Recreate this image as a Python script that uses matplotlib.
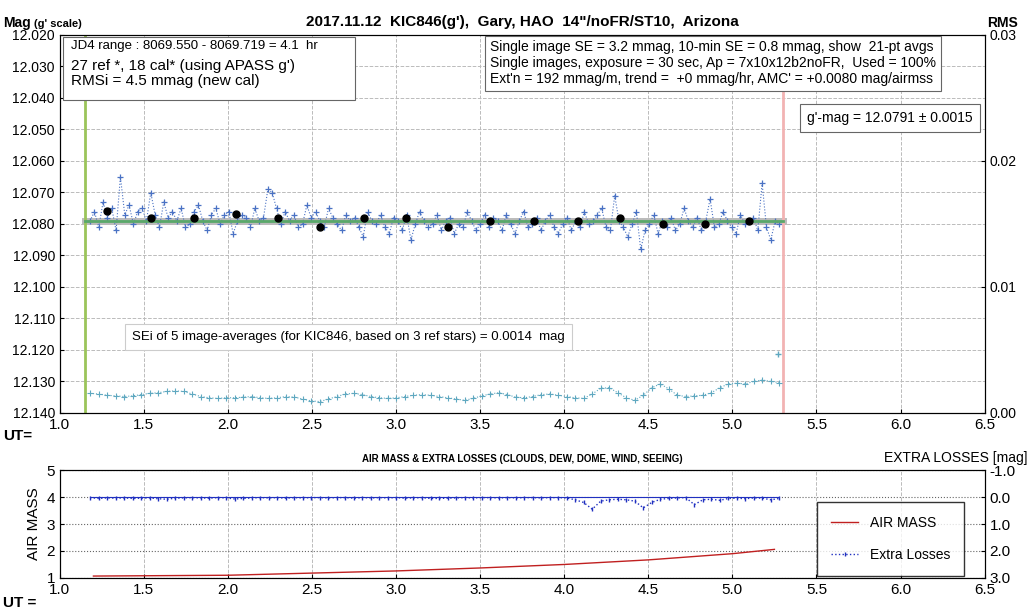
import numpy as np
import matplotlib.pyplot as plt
from matplotlib.patches import Rectangle

plt.rcParams.update({"font.family": "Liberation Sans", "font.size": 10})

# ---- data ----
ut_start, ut_end = 1.18, 5.28
mag_dev = [  # mmag offset from 12.079, one per image
    0, -3, 2, -6, -1, -4, 3, -14, -2, -5, 1, -3, -4, 0, -9, -2, 2, -6, -1, -3,
    0, -4, 2, 1, -3, -5, 0, 3, -2, -4, 1, -2, -3, 4, 0, -2, -1, 2, -4, 0,
    -1, -10, -9, -4, 1, -3, 0, -2, 2, 1, -5, -1, -3, 0, 2, -4, -1, 1, 3, -2,
    0, -1, 2, 5, -3, 0, 1, -2, 2, 4, -1, 0, 3, -2, 6, 1, -3, 0, 2, 1,
    -2, 3, 0, -1, 4, 1, 2, -3, 0, 3, 1, -2, 2, -1, 0, 3, -2, 1, 4, 0,
    -3, 2, 1, -1, 3, 0, -2, 2, 4, 1, -1, 3, 0, 2, -3, 1, 0, -2, -4, 2,
    3, -8, 0, 2, 5, 1, -3, 9, 3, 1, -2, 4, 0, 2, -1, 3, 1, -4, 0, 2,
    -1, 3, 0, -7, 2, 1, -3, 0, 2, 4, -2, 1, 0, -1, 3, -12, 2, 6, 0, 1,
]
avg_ut = [1.28, 1.54, 1.80, 2.05, 2.30, 2.55, 2.81, 3.06, 3.31, 3.56, 3.82, 4.08, 4.33, 4.59, 4.84, 5.10]
avg_mag = [12.076, 12.078, 12.078, 12.077, 12.078, 12.081, 12.078, 12.078, 12.081, 12.079,
           12.079, 12.079, 12.078, 12.080, 12.080, 12.079]
rms_vals = [  # RMS, right axis, 0.05 hr spacing
    1.55, 1.5, 1.4, 1.35, 1.3, 1.35, 1.45, 1.55, 1.6, 1.7, 1.75, 1.7, 1.5, 1.3, 1.2, 1.15,
    1.2, 1.2, 1.25, 1.3, 1.2, 1.15, 1.2, 1.3, 1.25, 1.1, 0.95, 0.9, 1.1, 1.3, 1.5, 1.55,
    1.45, 1.3, 1.2, 1.15, 1.2, 1.3, 1.4, 1.45, 1.4, 1.3, 1.2, 1.1, 1.0, 1.15, 1.35, 1.5,
    1.6, 1.45, 1.25, 1.2, 1.3, 1.45, 1.5, 1.4, 1.3, 1.2, 1.15, 1.5, 1.95, 2.0, 1.6, 1.2,
    1.0, 1.4, 2.0, 2.3, 1.9, 1.4, 1.3, 1.35, 1.4, 1.6, 2.0, 2.3, 2.35, 2.3, 2.5, 2.6, 2.5, 2.4,
]
extra_loss = [
    0.02, 0.05, 0.03, 0.04, 0.03, 0.05, 0.04, 0.03, 0.06, 0.08, 0.04, 0.03, 0.02, 0.03, 0.04, 0.02,
    0.03, 0.07, 0.05, 0.03, 0.02, 0.03, 0.02, 0.04, 0.02, 0.03, 0.02, 0.02, 0.03, 0.02, 0.02, 0.04,
    0.02, 0.03, 0.02, 0.03, 0.02, 0.04, 0.03, 0.02, 0.05, 0.05, 0.04, 0.03, 0.02, 0.03, 0.02, 0.02,
    0.03, 0.02, 0.03, 0.02, 0.02, 0.03, 0.02, 0.02, 0.03, 0.1, 0.2, 0.45, 0.15, 0.1, 0.08, 0.1,
    0.15, 0.4, 0.2, 0.08, 0.05, 0.03, 0.02, 0.28, 0.1, 0.08, 0.12, 0.05, 0.04, 0.06, 0.03, 0.04,
    0.1, 0.05,
]
am_ut = [1.2, 2.0, 2.5, 3.0, 3.5, 4.0, 4.5, 5.0, 5.25]
am_val = [1.07, 1.1, 1.18, 1.26, 1.37, 1.5, 1.67, 1.9, 2.06]
gmag = 12.0791

mag_ut = np.linspace(ut_start, ut_end, len(mag_dev))
mag = gmag + np.array(mag_dev) / 1000.0
rms_ut = np.linspace(ut_start, ut_end, len(rms_vals))
el_ut = np.linspace(ut_start, ut_end, len(extra_loss))
ticks_x = np.arange(1.0, 6.51, 0.5)

fig = plt.figure(figsize=(10.31, 6.09), dpi=100)
ax = fig.add_axes([0.058, 0.322, 0.897, 0.621])
ax.plot(mag_ut, mag, ls=":", color="#4a72c4", lw=0.8, marker="+", ms=5, mew=0.9)
ax.plot([1.15, 5.3], [gmag, gmag], color="#bbbbbb", lw=5, zorder=1)
ax.plot([1.15, 5.3], [gmag, gmag], color="#5aa86a", lw=2, zorder=3)
ax.plot(avg_ut, avg_mag, "o", color="black", ms=5, zorder=4)
ax.axvline(1.15, color="#9bc45a", lw=2)
ax.axvline(5.3, color="#f2b3b3", lw=2)
ax.set_xlim(1.0, 6.5)
ax.set_ylim(12.140, 12.020)
yt = np.arange(12.020, 12.1401, 0.010)
ax.set_yticks(yt)
ax.set_yticklabels([f"{v:.3f}" for v in yt])
ax.set_xticks(ticks_x)
ax.set_xticklabels([f"{v:.1f}" for v in ticks_x], fontsize=11)
ax.grid(True, ls="--", color="#bbbbbb", lw=0.7)
ax.tick_params(direction="in", length=3)
ax.set_title("2017.11.12  KIC846(g'),  Gary, HAO  14\"/noFR/ST10,  Arizona", fontsize=11, fontweight="bold")

ax2 = ax.twinx()
ax2.plot(rms_ut, np.array(rms_vals) / 1000.0, ls=":", color="#5fa8c0", lw=0.8, marker="+", ms=4, mew=0.8)
ax2.plot([5.27], [0.0047], "+", color="#5fa8c0", ms=4)
ax2.set_ylim(0, 0.03)
ax2.set_yticks([0, 0.01, 0.02, 0.03])
ax2.set_yticklabels(["0.00", "0.01", "0.02", "0.03"])
ax2.tick_params(direction="in", length=3)

fig.text(0.003, 0.955, "Mag", fontsize=10, fontweight="bold")
fig.text(0.033, 0.955, "(g' scale)", fontsize=8, fontweight="bold")
fig.text(0.957, 0.955, "RMS", fontsize=10, fontweight="bold")
fig.text(0.003, 0.278, "UT=", fontsize=11, fontweight="bold")

box = dict(facecolor="white", edgecolor="#666666", lw=0.8, boxstyle="square,pad=0.35")
ax2.add_patch(Rectangle((0.004, 0.828), 0.315, 0.167, transform=ax2.transAxes,
                        facecolor="white", edgecolor="#666666", lw=0.8, zorder=5))
ax2.text(0.012, 0.985, "JD4 range : 8069.550 - 8069.719 = 4.1  hr", transform=ax2.transAxes,
         va="top", fontsize=9.5, zorder=6)
ax2.text(0.012, 0.935, "27 ref *, 18 cal* (using APASS g')\nRMSi = 4.5 mmag (new cal)",
         transform=ax2.transAxes, va="top", fontsize=11, linespacing=1.1, zorder=6)
ax2.text(0.465, 0.985, "Single image SE = 3.2 mmag, 10-min SE = 0.8 mmag, show  21-pt avgs\n"
         "Single images, exposure = 30 sec, Ap = 7x10x12b2noFR,  Used = 100%\n"
         "Ext'n = 192 mmag/m, trend =  +0 mmag/hr, AMC' = +0.0080 mag/airmss",
         transform=ax2.transAxes, va="top", fontsize=10, linespacing=1.15, bbox=box, zorder=6)
ax2.text(0.808, 0.78, "g'-mag = 12.0791 \u00b1 0.0015", transform=ax2.transAxes,
         va="center", fontsize=10, bbox=dict(facecolor="white", edgecolor="#666666", lw=0.8, pad=5), zorder=6)
ax2.text(0.078, 0.2, "SEi of 5 image-averages (for KIC846, based on 3 ref stars) = 0.0014  mag",
         transform=ax2.transAxes, va="center", fontsize=9.5,
         bbox=dict(facecolor="white", edgecolor="#cccccc", lw=0.8, pad=5), zorder=6)

# ---- bottom panel ----
bx = fig.add_axes([0.058, 0.051, 0.897, 0.177])
l1, = bx.plot(am_ut, am_val, color="#c02020", lw=1)
bx.set_xlim(1.0, 6.5)
bx.set_ylim(1, 5)
bx.set_yticks([1, 2, 3, 4, 5])
bx.set_xticks(ticks_x)
bx.set_xticklabels([f"{v:.1f}" for v in ticks_x], fontsize=11)
bx.tick_params(labelsize=11, direction="in", length=3)
bx.set_ylabel("AIR MASS", fontsize=11)
bx.grid(True, axis="x", ls="--", color="#bbbbbb", lw=0.7)
bx.grid(True, axis="y", ls=":", color="#666666", lw=0.8)
bx.set_title("AIR MASS & EXTRA LOSSES (CLOUDS, DEW, DOME, WIND, SEEING)", fontsize=7, fontweight="bold")

bx2 = bx.twinx()
l2, = bx2.plot(el_ut, extra_loss, ls=":", color="#2030c0", lw=1, marker="|", ms=3)
bx2.plot([ut_start, ut_end], [0, 0], color="#2030c0", lw=0.8)
bx2.set_ylim(3.0, -1.0)
bx2.set_yticks([-1, 0, 1, 2, 3])
bx2.set_yticklabels(["-1.0", "0.0", "1.0", "2.0", "3.0"])
bx2.tick_params(labelsize=11, direction="in", length=3)
bx2.legend([l1, l2], ["AIR MASS", "Extra Losses"], loc="center right", bbox_to_anchor=(0.985, 0.36),
           fancybox=False, edgecolor="black", fontsize=10, borderpad=1.0, labelspacing=1.3)

fig.text(0.857, 0.241, "EXTRA LOSSES [mag]", fontsize=10)
fig.text(0.003, 0.004, "UT =", fontsize=11, fontweight="bold")

fig.savefig("out.png")
